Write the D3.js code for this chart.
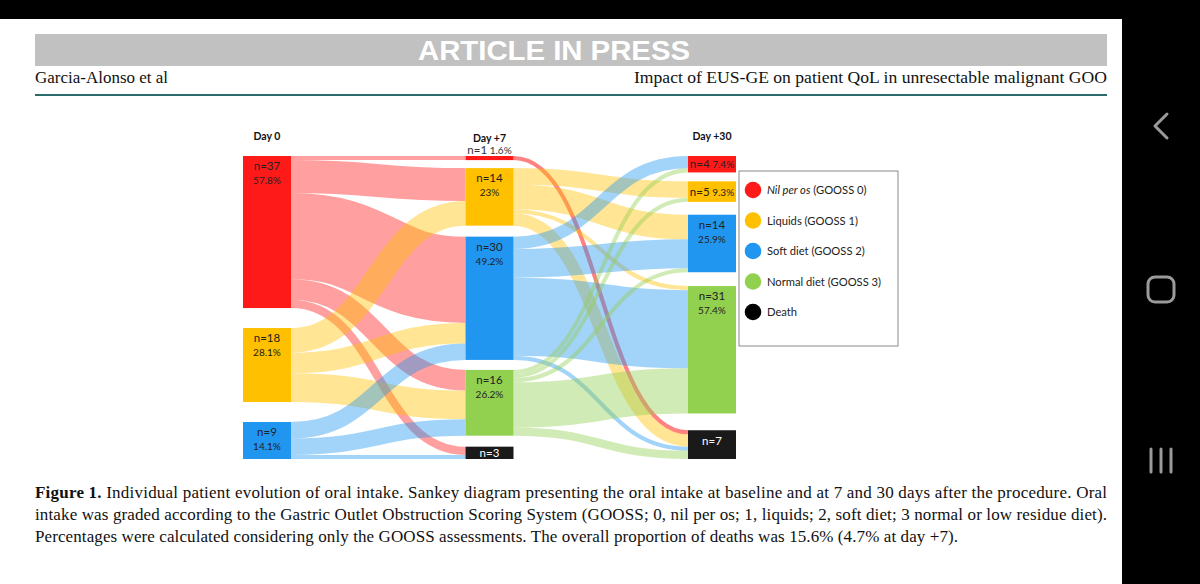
<!DOCTYPE html>
<html><head><meta charset="utf-8">
<script src="https://cdn.jsdelivr.net/npm/d3@7"></script>
<style>body{margin:0;background:#000;overflow:hidden} svg{display:block}</style>
</head><body>
<svg id="c" width="1200" height="584"></svg>
<script>
// ---------- DATA ----------
const dayLabels = ["Day 0", "Day +7", "Day +30"];
const categories = ["Nil per os", "Liquids", "Soft diet", "Normal diet", "Death"];
const legendSuffix = [" (GOOSS 0)", " (GOOSS 1)", " (GOOSS 2)", " (GOOSS 3)", ""];
const day0Counts = [37, 18, 9];
const day7Counts = [1, 14, 30, 16, 3];
const day30Counts = [4, 5, 14, 31, 7];
const day0Pct = ["57.8%", "28.1%", "14.1%"];
const day7Pct = ["1.6%", "23%", "49.2%", "26.2%", ""];
const day30Pct = ["7.4%", "9.3%", "25.9%", "57.4%", ""];
// [from category, to category, patients]
const flows0to7 = [[0,0,1],[0,1,8],[0,2,21],[0,3,5],[0,4,2],
                   [1,1,6],[1,2,5],[1,3,7],
                   [2,2,4],[2,3,4],[2,4,1]];
const flows7to30 = [[0,4,1],
                    [1,1,4],[1,2,6],[1,3,1],[1,4,3],
                    [2,0,3],[2,2,7],[2,3,19],[2,4,1],
                    [3,0,1],[3,1,1],[3,2,1],[3,3,11],[3,4,2]];
const captionLines = [
  ["Figure 1.", " Individual patient evolution of oral intake. Sankey diagram presenting the oral intake at baseline and at 7 and 30 days after the procedure. Oral"],
  ["", "intake was graded according to the Gastric Outlet Obstruction Scoring System (GOOSS; 0, nil per os; 1, liquids; 2, soft diet; 3 normal or low residue diet)."],
  ["", "Percentages were calculated considering only the GOOSS assessments. The overall proportion of deaths was 15.6% (4.7% at day +7)."]
];

// ---------- STYLE / LAYOUT ----------
const colors = ["#ff1a1a", "#ffc000", "#2196f0", "#92d050", "#1a1a1a"];
const sans = "Lato, 'Open Sans', sans-serif";
const serif = "'Liberation Serif', 'DejaVu Serif', serif";
const gapWeights = [[1, 1], [0.8, 1.1, 1, 1.1], [9, 13, 14, 17]];

const svg = d3.select("#c");

// page frame
svg.append("rect").attr("x",0).attr("y",0).attr("width",1200).attr("height",584).attr("fill","#000");
svg.append("rect").attr("x",0).attr("y",19).attr("width",1122).attr("height",565).attr("fill","#fff");
svg.append("rect").attr("x",35).attr("y",34).attr("width",1072).attr("height",32).attr("fill","#c1c1c1");
svg.append("text").attr("x",554).attr("y",60).attr("text-anchor","middle")
  .attr("font-family","'Liberation Sans', Arial, sans-serif").attr("font-weight","bold")
  .attr("font-size",27).attr("fill","#fff").attr("textLength",272).attr("lengthAdjust","spacingAndGlyphs")
  .text("ARTICLE IN PRESS");
svg.append("text").attr("x",35).attr("y",83).attr("font-family",serif).attr("font-size",16.5).attr("fill","#111")
  .attr("textLength",133).attr("lengthAdjust","spacingAndGlyphs").text("Garcia-Alonso et al");
svg.append("text").attr("x",634).attr("y",83).attr("font-family",serif).attr("font-size",17).attr("fill","#111")
  .attr("textLength",473).attr("lengthAdjust","spacingAndGlyphs")
  .text("Impact of EUS-GE on patient QoL in unresectable malignant GOO");
svg.append("rect").attr("x",35).attr("y",94).attr("width",1072).attr("height",2).attr("fill","#2d6b6b");

// nav bar icons
const nav = svg.append("g").attr("stroke","#9a9a9a").attr("stroke-width",3).attr("fill","none").attr("stroke-linecap","round").attr("stroke-linejoin","round");
nav.append("path").attr("d","M1167,114 L1155,126 L1167,138");
nav.append("rect").attr("x",1148).attr("y",277).attr("width",26).attr("height",25).attr("rx",7);
[1151,1161,1171].forEach(xx => nav.append("line").attr("x1",xx).attr("x2",xx).attr("y1",449).attr("y2",472));

// ---------- SANKEY LAYOUT ----------
const counts = [day0Counts, day7Counts, day30Counts];
const pcts = [day0Pct, day7Pct, day30Pct];
const yTop = 156, yBottom = 459, nodeW = 48;
const x = d3.scaleLinear().domain([0, 2]).range([243, 688]);
const k = d3.scaleLinear().domain([0, d3.sum(day0Counts)]).range([0, 263]);

const nodes = counts.map((col, ci) => {
  const total = d3.sum(col);
  const free = yBottom - yTop - k(total);
  const wsum = d3.sum(gapWeights[ci]);
  let y = yTop;
  return col.map((v, i) => {
    const n = {ci, i, v, pct: pcts[ci][i], x0: x(ci), x1: x(ci) + nodeW, y0: y, y1: y + k(v)};
    y += k(v) + (i < col.length - 1 ? free * gapWeights[ci][i] / wsum : 0);
    return n;
  });
});

const links = [];
[flows0to7, flows7to30].forEach((fl, s) => {
  fl.forEach(([a, b, v]) => links.push({s: nodes[s][a], t: nodes[s + 1][b], a, b, v}));
});
nodes.flat().forEach(n => {
  let o = n.y0;
  links.filter(l => l.s === n).sort((p, q) => p.b - q.b).forEach(l => { l.ys = o + k(l.v) / 2; o += k(l.v); });
  let iy = n.y0;
  links.filter(l => l.t === n).sort((p, q) => p.a - q.a).forEach(l => { l.yt = iy + k(l.v) / 2; iy += k(l.v); });
});

const linkGen = d3.linkHorizontal().source(l => [l.s.x1, l.ys]).target(l => [l.t.x0, l.yt]);

svg.append("g").attr("fill", "none")
  .selectAll("path").data(links).join("path")
  .attr("d", linkGen)
  .attr("stroke", l => colors[l.a])
  .attr("stroke-opacity", l => (l.s.ci === 1 && l.a === 0) ? 0.55 : 0.42)
  .attr("stroke-width", l => k(l.v));

// nodes
svg.append("g").selectAll("rect").data(nodes.flat()).join("rect")
  .attr("x", n => n.x0).attr("y", n => n.y0)
  .attr("width", nodeW).attr("height", n => n.y1 - n.y0)
  .attr("fill", n => colors[n.i]);

// node labels
const lg = svg.append("g").attr("font-family", sans).attr("text-anchor", "middle");
nodes.flat().forEach(n => {
  const cx = (n.x0 + n.x1) / 2, h = n.y1 - n.y0;
  if (n.i === 4) {
    lg.append("text").attr("x", cx).attr("y", h < 20 ? n.y0 + h / 2 + 4.5 : n.y0 + 15)
      .attr("font-size", 11.5).attr("fill", "#fff").text("n=" + n.v);
  } else if (h < 10) {
    const t = lg.append("text").attr("x", cx).attr("y", n.y0 - 2).attr("fill", "#333");
    t.append("tspan").attr("font-size", 11.5).text("n=" + n.v);
    t.append("tspan").attr("font-size", 10).text(" " + n.pct);
  } else if (h < 30) {
    const t = lg.append("text").attr("x", cx).attr("y", n.y0 + h / 2 + 4).attr("fill", "#222");
    t.append("tspan").attr("font-size", 11.5).text("n=" + n.v);
    t.append("tspan").attr("font-size", 10).text(" " + n.pct);
  } else {
    lg.append("text").attr("x", cx).attr("y", n.y0 + 14).attr("font-size", 11.5).attr("fill", "#222").text("n=" + n.v);
    lg.append("text").attr("x", cx).attr("y", n.y0 + 28).attr("font-size", 10).attr("fill", "#222").text(n.pct);
  }
});

// column headers
svg.append("g").attr("font-family", sans).attr("font-weight", "bold").attr("font-size", 10.5)
  .attr("text-anchor", "middle").attr("fill", "#111")
  .selectAll("text").data(dayLabels).join("text")
  .attr("x", (d, i) => x(i) + nodeW / 2)
  .attr("y", (d, i) => i === 1 ? 142 : 140)
  .text(d => d);

// legend
const leg = svg.append("g").attr("font-family", sans);
leg.append("rect").attr("x", 739).attr("y", 171).attr("width", 159).attr("height", 175)
  .attr("fill", "#fff").attr("stroke", "#8a8a8a").attr("stroke-width", 1);
const ly = d3.scalePoint().domain(d3.range(categories.length)).range([190, 312]);
categories.forEach((c, i) => {
  leg.append("circle").attr("cx", 753).attr("cy", ly(i)).attr("r", 8.3).attr("fill", i === 4 ? "#000" : colors[i]);
  const t = leg.append("text").attr("x", 767).attr("y", ly(i) + 4).attr("font-size", 11.2).attr("fill", "#222");
  t.append("tspan").attr("font-style", i === 0 ? "italic" : "normal").text(c);
  t.append("tspan").text(legendSuffix[i]);
});

// caption
const cap = svg.append("g").attr("font-family", serif).attr("font-size", 17).attr("fill", "#111");
const capLen = [1072, 1072, 923];
captionLines.forEach((ln, i) => {
  const t = cap.append("text").attr("x", 35).attr("y", 498 + i * 22)
    .attr("textLength", capLen[i]).attr("lengthAdjust", "spacing");
  if (ln[0]) t.append("tspan").attr("font-weight", "bold").text(ln[0]);
  t.append("tspan").text(ln[1]);
});
</script>
</body></html>
